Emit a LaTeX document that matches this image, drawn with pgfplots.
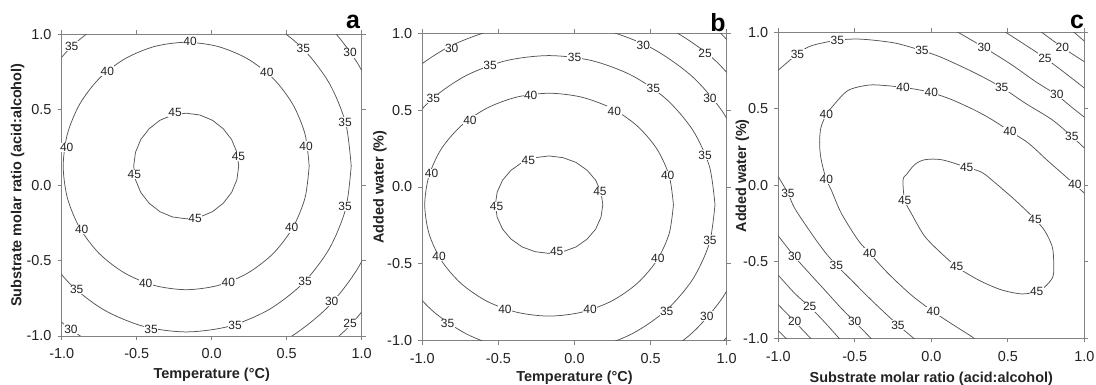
\documentclass[border=0pt]{standalone}
\usepackage{pgfplots}
\pgfplotsset{compat=1.18}
\usepackage{fontspec}
\setmainfont{Liberation Sans}
\definecolor{axgray}{RGB}{130,130,130}
\definecolor{cline}{RGB}{85,85,85}
\definecolor{txt}{RGB}{35,35,35}

\tikzset{letter/.style={font=\fontsize{25}{27}\selectfont\bfseries, text=black, inner sep=0pt}}
\pgfplotsset{
  cpanel/.style={
    scale only axis,
    xmin=-1, xmax=1, ymin=-1, ymax=1,
    xtick={-1,-0.5,0,0.5,1}, ytick={-1,-0.5,0,0.5,1},
    xticklabels={-1.0,-0.5,0.0,0.5,1.0}, yticklabels={-1.0,-0.5,0.0,0.5,1.0},
    tick align=outside, major tick length=4bp,
    axis line style={axgray, line width=0.9bp},
    tick style={axgray, line width=0.8bp},
    every tick label/.append style={font=\fontsize{14.5}{17}\selectfont, text=txt},
    xticklabel style={anchor=center, inner sep=0pt, yshift=-14bp},
    yticklabel style={anchor=east, inner sep=0pt, xshift=-6bp},
    label style={font=\fontsize{14.5}{17}\selectfont\bfseries, text=txt},
  },
  cl/.style={cline, line width=0.75bp, no marks, smooth, tension=0.5},
  cls/.style={cline, line width=0.75bp, no marks, sharp plot},
  lab/.style={only marks, mark=none, nodes near coords, point meta=explicit symbolic,
    every node near coord/.append style={anchor=center, fill=white, inner sep=0.5bp,
      font=\fontsize{12}{13}\selectfont, text=txt}},
}

\begin{document}
\begin{tikzpicture}
\useasboundingbox (0,0) rectangle (1096bp,385bp);

% ---------------- panel a ----------------
\begin{axis}[cpanel, name=pa,
  at={(61.7bp,49bp)}, anchor=south west, width=300bp, height=301.7bp,
  xlabel={Temperature (°C)},
  xlabel style={at={(axis description cs:0.5,-0.129)}, anchor=center},
  ylabel={Substrate molar ratio (acid:alcohol)},
  ylabel style={at={(axis description cs:-0.147,0.5)}, anchor=center},
]
\addplot[cls] coordinates {(0.180,0.127) (0.168,0.218) (0.133,0.302) (0.077,0.374) (0.005,0.430) (-0.079,0.465) (-0.170,0.477) (-0.261,0.465) (-0.345,0.430) (-0.417,0.374) (-0.473,0.302) (-0.508,0.218) (-0.520,0.127) (-0.508,0.036) (-0.473,-0.048) (-0.417,-0.120) (-0.345,-0.176) (-0.261,-0.211) (-0.170,-0.223) (-0.079,-0.211) (0.005,-0.176) (0.077,-0.120) (0.133,-0.048) (0.168,0.036) (0.180,0.127)};
\addplot[cl] coordinates {(0.650,0.127) (0.622,0.339) (0.540,0.537) (0.410,0.707) (0.240,0.837) (0.042,0.919) (-0.170,0.947) (-0.382,0.919) (-0.580,0.837) (-0.750,0.707) (-0.880,0.537) (-0.962,0.339) (-0.990,0.127) (-0.962,-0.085) (-0.880,-0.283) (-0.750,-0.453) (-0.580,-0.583) (-0.382,-0.665) (-0.170,-0.693) (0.042,-0.665) (0.240,-0.583) (0.410,-0.453) (0.540,-0.283) (0.622,-0.085) (0.650,0.127)};
\addplot[cl] coordinates {(0.930,0.127) (0.893,0.412) (0.783,0.677) (0.608,0.905) (0.380,1.080) (0.115,1.190) (-0.170,1.227) (-0.455,1.190) (-0.720,1.080) (-0.948,0.905) (-1.123,0.677) (-1.233,0.412) (-1.270,0.127) (-1.233,-0.158) (-1.123,-0.423) (-0.948,-0.651) (-0.720,-0.826) (-0.455,-0.936) (-0.170,-0.973) (0.115,-0.936) (0.380,-0.826) (0.608,-0.651) (0.783,-0.423) (0.893,-0.158) (0.930,0.127)};
\addplot[cl] coordinates {(1.160,0.127) (1.115,0.471) (0.982,0.792) (0.770,1.067) (0.495,1.279) (0.174,1.412) (-0.170,1.457) (-0.514,1.412) (-0.835,1.279) (-1.110,1.067) (-1.322,0.792) (-1.455,0.471) (-1.500,0.127) (-1.455,-0.217) (-1.322,-0.538) (-1.110,-0.813) (-0.835,-1.025) (-0.514,-1.158) (-0.170,-1.203) (0.174,-1.158) (0.495,-1.025) (0.770,-0.813) (0.982,-0.538) (1.115,-0.217) (1.160,0.127)};
\addplot[cl] coordinates {(-0.170,-1.393) (0.224,-1.341) (0.590,-1.189) (0.905,-0.948) (1.146,-0.633) (1.298,-0.267)};
\addplot[lab] table[meta=l, row sep=\\] {
x y l \\
-0.933 0.922 35 \\ -0.144 0.950 40 \\ 0.611 0.904 35 \\ 0.922 0.877 30 \\
-0.696 0.756 40 \\ 0.367 0.749 40 \\ -0.244 0.480 45 \\ 0.889 0.418 35 \\
-0.967 0.248 40 \\ 0.629 0.259 40 \\ 0.178 0.192 45 \\ -0.516 0.071 45 \\
0.889 -0.139 35 \\ -0.867 -0.294 40 \\ 0.533 -0.283 40 \\ -0.111 -0.223 45 \\
-0.900 -0.692 35 \\ -0.440 -0.652 40 \\ 0.111 -0.643 40 \\ 0.622 -0.636 35 \\
0.800 -0.769 30 \\ 0.922 -0.917 25 \\ -0.938 -0.954 30 \\ -0.404 -0.957 35 \\
0.156 -0.930 35 \\
};
\end{axis}
\node[letter] at ([xshift=-8.7bp, yshift=12.6bp]pa.north east) {a};

% ---------------- panel b ----------------
\begin{axis}[cpanel, name=pb,
  at={(422.3bp,44.3bp)}, anchor=south west, width=304.4bp, height=307.4bp,
  xlabel={Temperature (°C)},
  xlabel style={at={(axis description cs:0.5,-0.12)}, anchor=center},
  ylabel={Added water (\%)},
  ylabel style={at={(axis description cs:-0.139,0.5)}, anchor=center},
]
\addplot[cls] coordinates {(0.186,-0.115) (0.174,-0.033) (0.139,0.044) (0.083,0.109) (0.010,0.160) (-0.076,0.191) (-0.167,0.202) (-0.258,0.191) (-0.344,0.160) (-0.417,0.109) (-0.473,0.044) (-0.508,-0.033) (-0.520,-0.115) (-0.508,-0.197) (-0.473,-0.274) (-0.417,-0.339) (-0.344,-0.390) (-0.258,-0.421) (-0.167,-0.432) (-0.076,-0.421) (0.010,-0.390) (0.083,-0.339) (0.139,-0.274) (0.174,-0.197) (0.186,-0.115)};
\addplot[cl] coordinates {(0.650,-0.115) (0.622,0.073) (0.541,0.248) (0.411,0.398) (0.242,0.513) (0.045,0.585) (-0.167,0.610) (-0.379,0.585) (-0.576,0.513) (-0.745,0.398) (-0.875,0.248) (-0.956,0.073) (-0.984,-0.115) (-0.956,-0.303) (-0.875,-0.478) (-0.745,-0.628) (-0.576,-0.743) (-0.379,-0.815) (-0.167,-0.840) (0.045,-0.815) (0.242,-0.743) (0.411,-0.628) (0.541,-0.478) (0.622,-0.303) (0.650,-0.115)};
\addplot[cl] coordinates {(0.923,-0.115) (0.886,0.136) (0.777,0.370) (0.604,0.571) (0.378,0.725) (0.115,0.822) (-0.167,0.855) (-0.449,0.822) (-0.712,0.725) (-0.938,0.571) (-1.111,0.370) (-1.220,0.136) (-1.257,-0.115) (-1.220,-0.366) (-1.111,-0.600) (-0.938,-0.801) (-0.712,-0.955) (-0.449,-1.052) (-0.167,-1.085) (0.115,-1.052) (0.378,-0.955) (0.604,-0.801) (0.777,-0.600) (0.886,-0.366) (0.923,-0.115)};
\addplot[cl] coordinates {(1.160,-0.115) (1.115,0.191) (0.982,0.476) (0.771,0.721) (0.497,0.909) (0.177,1.027) (-0.167,1.067) (-0.511,1.027) (-0.831,0.909) (-1.105,0.721) (-1.316,0.476) (-1.449,0.191) (-1.494,-0.115) (-1.449,-0.421) (-1.316,-0.706) (-1.105,-0.951) (-0.831,-1.139) (-0.511,-1.257) (-0.167,-1.297) (0.177,-1.257) (0.497,-1.139) (0.771,-0.951) (0.982,-0.706) (1.115,-0.421) (1.160,-0.115)};
\addplot[cl] coordinates {(0.229,-1.409) (0.598,-1.275) (0.915,-1.062) (1.158,-0.785) (1.311,-0.462) (1.363,-0.115) (1.311,0.232) (1.158,0.545) (0.915,0.832) (0.598,1.045) (0.229,1.179)};
\addplot[cls] coordinates {(0.940,1.02) (0.975,0.985) (1.02,0.940)};
\addplot[lab] table[meta=l, row sep=\\] {
x y l \\
-0.807 0.902 30 \\ 0.452 0.924 30 \\ 0.858 0.870 25 \\ -0.555 0.794 35 \\
0.000 0.844 35 \\ 0.518 0.642 35 \\ 0.890 0.577 30 \\ -0.928 0.577 35 \\
-0.288 0.599 40 \\ 0.262 0.495 40 \\ -0.687 0.436 40 \\ 0.858 0.208 35 \\
-0.303 0.171 45 \\ -0.939 0.089 40 \\ 0.612 0.074 40 \\ 0.167 -0.030 45 \\
-0.512 -0.128 45 \\ 0.890 -0.345 35 \\ -0.117 -0.421 45 \\ -0.890 -0.453 40 \\
0.547 -0.464 40 \\ -0.457 -0.796 40 \\ 0.102 -0.796 40 \\ 0.606 -0.811 35 \\
0.869 -0.839 30 \\ -0.834 -0.887 35 \\
};
\end{axis}
\node[letter] at ([xshift=-8.7bp, yshift=10.8bp]pb.north east) {b};

% ---------------- panel c ----------------
\begin{axis}[cpanel, name=pc,
  at={(778.3bp,46.7bp)}, anchor=south west, width=306bp, height=306bp,
  xlabel={Substrate molar ratio (acid:alcohol)},
  xlabel style={at={(axis description cs:0.5,-0.131)}, anchor=center},
  ylabel={Added water (\%)},
  ylabel style={at={(axis description cs:-0.117,0.531)}, anchor=center},
]
\addplot[cl] coordinates {(-0.163,0.069) (-0.109,0.135) (-0.043,0.167) (0.068,0.167) (0.231,0.118) (0.330,0.085) (0.395,0.035) (0.547,-0.096) (0.678,-0.222) (0.743,-0.300) (0.790,-0.400) (0.800,-0.500) (0.795,-0.597) (0.743,-0.663) (0.689,-0.695) (0.591,-0.710) (0.460,-0.684) (0.330,-0.630) (0.231,-0.575) (0.166,-0.532) (0.090,-0.467) (-0.041,-0.336) (-0.131,-0.183) (-0.174,-0.096) (-0.185,0.035) (-0.163,0.069)};
\addplot[cl] coordinates {(1.02,-0.070) (0.939,0.004) (0.765,0.157) (0.634,0.276) (0.514,0.353) (0.395,0.430) (0.286,0.490) (0.133,0.560) (0.000,0.606) (-0.087,0.625) (-0.185,0.640) (-0.300,0.652) (-0.410,0.655) (-0.544,0.620) (-0.642,0.520) (-0.690,0.455) (-0.722,0.375) (-0.730,0.280) (-0.722,0.180) (-0.690,0.050) (-0.650,-0.040) (-0.588,-0.183) (-0.479,-0.358) (-0.403,-0.444) (-0.283,-0.575) (-0.131,-0.717) (0.013,-0.826) (0.140,-0.910) (0.264,-0.989) (0.300,-1.02)};
\addplot[cl] coordinates {(-1.02,0.735) (-0.875,0.858) (-0.784,0.912) (-0.614,0.948) (-0.458,0.955) (-0.239,0.930) (-0.061,0.880) (0.068,0.835) (0.286,0.734) (0.460,0.640) (0.612,0.538) (0.787,0.430) (0.918,0.320) (1.02,0.225)};
\addplot[cl] coordinates {(0.140,1.02) (0.346,0.900) (0.525,0.788) (0.678,0.680) (0.820,0.590) (0.918,0.510) (1.02,0.430)};
\addplot[cl] coordinates {(0.455,1.02) (0.612,0.919) (0.743,0.832) (0.874,0.734) (1.02,0.620)};
\addplot[cl] coordinates {(0.695,1.02) (0.856,0.902) (1.02,0.795)};
\addplot[cls] coordinates {(0.910,1.02) (1.02,0.925)};
\addplot[cl] coordinates {(-1.02,0.090) (-0.937,-0.052) (-0.893,-0.150) (-0.784,-0.314) (-0.697,-0.434) (-0.621,-0.521) (-0.523,-0.619) (-0.392,-0.750) (-0.218,-0.913) (-0.090,-1.02)};
\addplot[cl] coordinates {(-1.02,-0.305) (-0.893,-0.467) (-0.806,-0.565) (-0.697,-0.684) (-0.588,-0.804) (-0.501,-0.891) (-0.375,-1.02)};
\addplot[cl] coordinates {(-1.02,-0.565) (-0.893,-0.706) (-0.795,-0.794) (-0.697,-0.895) (-0.585,-1.02)};
\addplot[cl] coordinates {(-1.02,-0.760) (-0.893,-0.891) (-0.770,-1.02)};
\addplot[cls] coordinates {(-1.02,-0.930) (-0.930,-1.02)};
\addplot[lab] table[meta=l, row sep=\\] {
x y l \\
-0.875 0.858 35 \\ -0.614 0.948 35 \\ -0.061 0.880 35 \\ 0.346 0.900 30 \\
0.743 0.832 25 \\ 0.856 0.902 20 \\ 0.460 0.640 35 \\ 0.820 0.595 30 \\
-0.185 0.640 40 \\ 0.000 0.606 40 \\ -0.686 0.461 40 \\ 0.514 0.353 40 \\
0.918 0.320 35 \\ 0.231 0.118 45 \\ -0.686 0.037 40 \\ 0.939 0.004 40 \\
-0.937 -0.052 35 \\ -0.174 -0.096 45 \\ 0.678 -0.222 45 \\ -0.403 -0.444 40 \\
-0.893 -0.467 30 \\ -0.621 -0.521 35 \\ 0.166 -0.532 45 \\ 0.689 -0.695 45 \\
-0.795 -0.794 25 \\ 0.013 -0.826 40 \\ -0.501 -0.891 30 \\ -0.893 -0.891 20 \\
-0.218 -0.913 35 \\
};
\end{axis}
\node[letter] at ([xshift=-7.3bp, yshift=10.3bp]pc.north east) {c};
\end{tikzpicture}
\end{document}
